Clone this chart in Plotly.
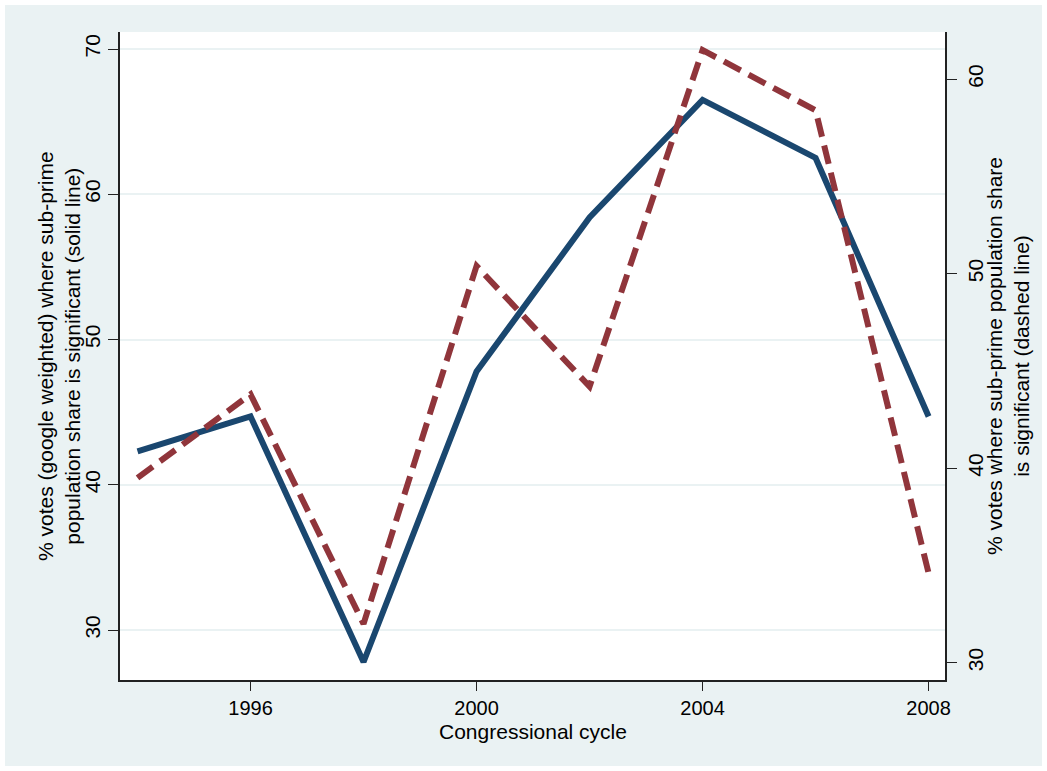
import plotly.graph_objects as go

years = [1994, 1996, 1998, 2000, 2002, 2004, 2006, 2008]
google_weighted = [42.3, 44.7, 27.8, 47.8, 58.4, 66.5, 62.5, 44.7]
unweighted = [39.5, 43.8, 32.0, 50.4, 44.2, 61.5, 58.4, 34.6]

x_ticks = [1996, 2000, 2004, 2008]
left_ticks = [30, 40, 50, 60, 70]
right_ticks = [30, 40, 50, 60]

BG = "#EAF2F3"
FONT = "Liberation Sans, Arial, sans-serif"
FS = 21

fig = go.Figure()
fig.add_trace(go.Scatter(x=years, y=google_weighted, mode="lines",
                         line=dict(color="#1A476F", width=6),
                         yaxis="y", showlegend=False))
fig.add_trace(go.Scatter(x=years, y=unweighted, mode="lines",
                         line=dict(color="#90353B", width=6, dash="19px,9px"),
                         yaxis="y2", showlegend=False))

W, H = 1047, 771
L, R, T, B = 120, 102, 32, 91
pw, ph = W - L - R, H - T - B

axis_common = dict(showline=True, linecolor="#222222", linewidth=1.5,
                   ticks="outside", ticklen=10, tickwidth=1.2, tickcolor="#222222",
                   tickfont=dict(family=FONT, size=FS, color="black"),
                   zeroline=False)

fig.update_layout(
    width=W, height=H,
    margin=dict(l=L, r=R, t=T, b=B),
    paper_bgcolor=BG, plot_bgcolor="white",
    font=dict(family=FONT, size=FS, color="black"),
    xaxis=dict(range=[1993.69, 2008.29], tickvals=x_ticks, showgrid=False,
               **{**axis_common, "ticklen": 9,
                  "tickfont": dict(family=FONT, size=20, color="black")}),
    yaxis=dict(range=[26.56, 71.17], tickvals=left_ticks, tickangle=-90,
               showgrid=True, gridcolor=BG, gridwidth=2, **axis_common),
    yaxis2=dict(range=[29.11, 62.43], tickvals=right_ticks, tickangle=-90,
                overlaying="y", side="right", showgrid=False,
                ticklabelstandoff=1, **axis_common),
    shapes=[dict(type="rect", xref="paper", yref="paper",
                 x0=-L / pw, x1=(W - L) / pw, y0=-B / ph, y1=(H - B) / ph,
                 line=dict(color="white", width=10), fillcolor="rgba(0,0,0,0)",
                 layer="above")],
    annotations=[
        dict(text="Congressional cycle", xref="paper", yref="paper",
             x=0.5, y=-(731 - 680) / ph, xanchor="center", yanchor="middle",
             showarrow=False, font=dict(family=FONT, size=FS)),
        dict(text="% votes (google weighted) where sub-prime<br>population share is significant (solid line)",
             xref="paper", yref="paper", x=-(120 - 59) / pw, y=0.5,
             xanchor="center", yanchor="middle", textangle=-90,
             showarrow=False, font=dict(family=FONT, size=FS)),
        dict(text="% votes where sub-prime population share<br>is significant (dashed line)",
             xref="paper", yref="paper", x=(1008 - 120) / pw, y=0.5,
             xanchor="center", yanchor="middle", textangle=-90,
             showarrow=False, font=dict(family=FONT, size=FS)),
    ],
)

fig.write_html("out.html", config={"displayModeBar": False},
               post_script="document.body.style.margin='0';document.body.style.overflow='hidden';")
